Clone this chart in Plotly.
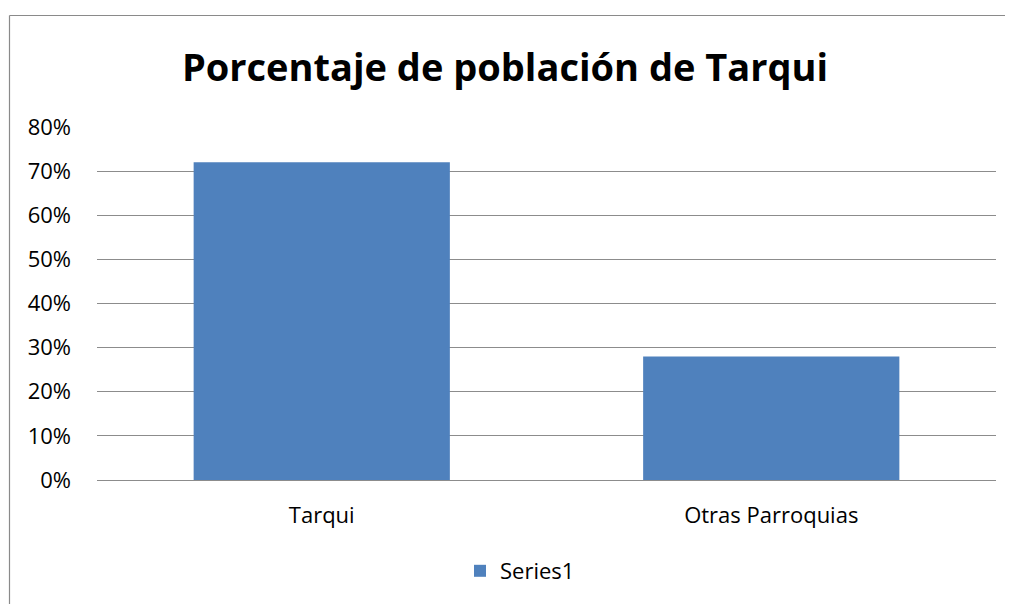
import plotly.graph_objects as go

categories = ["Tarqui", "Otras Parroquias"]
values = [0.72, 0.28]
series_name = "Series1"
title_text = "Porcentaje de población de Tarqui"
tick_vals = [0, 0.1, 0.2, 0.3, 0.4, 0.5, 0.6, 0.7, 0.8]

OFF = 8  # page body margin
W, H = 1013 - OFF, 604 - OFF
L, R, T, B = 97 - OFF, 17, 127 - OFF, 124
pw, ph = W - L - R, H - T - B

def px_x(p):
    return (p - OFF - L) / pw

def px_y(p):
    return (H - B - (p - OFF)) / ph

FONT = "Open Sans, Liberation Sans, sans-serif"
frame = dict(color="#8a8a8a", width=1.2)

fig = go.Figure()
fig.add_trace(go.Bar(
    x=categories, y=values, name=series_name,
    marker=dict(color="#4F81BD", line=dict(width=0)),
    showlegend=True,
))

fig.update_layout(
    width=W, height=H,
    margin=dict(l=L, r=R, t=T, b=B),
    paper_bgcolor="white", plot_bgcolor="white",
    font=dict(family=FONT, color="black", size=22),
    title=dict(text="<b>" + title_text + "</b>", x=(505 - OFF) / W, xanchor="center",
               y=1 - (68 - OFF) / H, yanchor="middle",
               font=dict(size=38, family=FONT, color="black")),
    bargap=0.43,
    showlegend=True,
    legend=dict(orientation="h", x=px_x(520), xanchor="center", y=px_y(571), yanchor="middle",
                font=dict(size=22)),
    xaxis=dict(showgrid=False, showline=False, ticks="", ticklabelstandoff=20,
               tickfont=dict(size=22)),
    yaxis=dict(range=[0, 0.8], tickvals=tick_vals, tickformat=".0%",
               showgrid=True, gridcolor="#8c8c8c", gridwidth=1,
               zeroline=True, zerolinecolor="#8c8c8c", zerolinewidth=1,
               showline=False, ticks="", ticklabelstandoff=25,
               tickfont=dict(size=22)),
    shapes=[
        dict(type="line", xref="paper", yref="paper",
             x0=px_x(9.5), x1=px_x(1013), y0=px_y(15.5), y1=px_y(15.5), line=frame),
        dict(type="line", xref="paper", yref="paper",
             x0=px_x(9.5), x1=px_x(9.5), y0=px_y(15.5), y1=px_y(604), line=frame),
    ],
)

fig.write_html("out.html")
